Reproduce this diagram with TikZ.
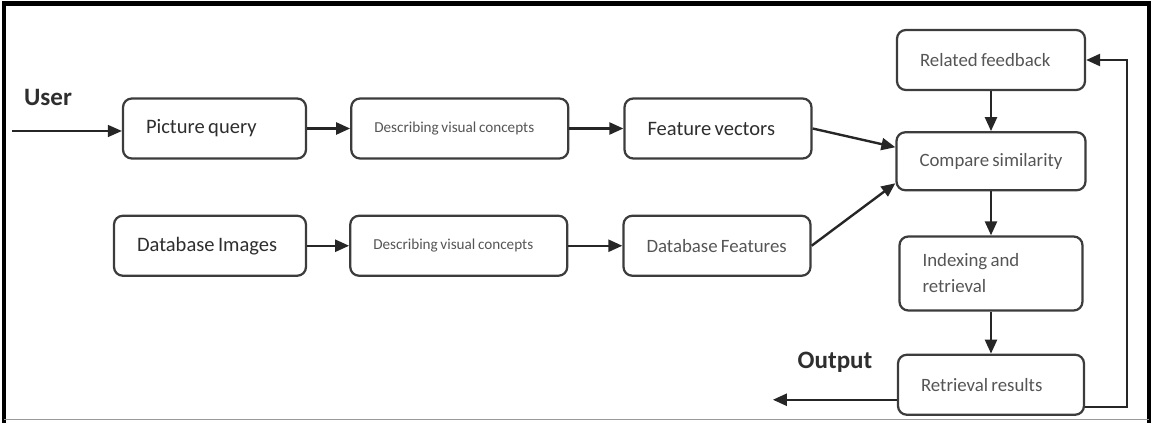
\documentclass[tikz,border=0pt]{standalone}
\usepackage{fontspec}
\setmainfont{Carlito}
\usepackage{xcolor}
\usetikzlibrary{arrows.meta, positioning}
\definecolor{boxline}{HTML}{3C3C3C}
\definecolor{darktext}{HTML}{2E2E2E}
\definecolor{softtext}{HTML}{555555}

\begin{document}
\begin{tikzpicture}[
    block/.style={rectangle, draw=boxline, line width=1.6pt, rounded corners=0.22cm, minimum height=1.5cm, inner xsep=0.575cm, align=left, font=\fontsize{13.4}{18.5}\selectfont, text=softtext, execute at begin node={\spaceskip=0.17em\relax}},
    strong/.style={block, font=\fontsize{14.6}{18}\selectfont, text=darktext},
    small/.style={block, font=\fontsize{10.8}{13}\selectfont, text=softtext},
    io/.style={font=\bfseries\fontsize{17.8}{20}\selectfont, text=darktext},
    arr/.style={-{Triangle[length=0.35cm, width=0.3cm]}, line width=1.7pt, draw=black!85},
]
    \useasboundingbox (0,0) rectangle (28.85,-10.575);
    % frame
    \draw[line width=3pt] (0.1,-10.575) -- (0.1,-0.09) -- (28.725,-0.09) -- (28.725,-10.575);
    \draw[black!40, line width=0.8pt] (0.1,-10.49) -- (28.725,-10.49);

    \node[strong, text width=3.425cm] (query) at (5.3625,-3.2125) {Picture query};
    \node[small, text width=4.275cm, right=1.075cm of query] (descq) {\mbox{Describing visual concepts}};
    \node[strong, text width=3.525cm, right=1.35cm of descq] (featvec) {Feature vectors};
    \node[strong, text width=3.65cm, below=1.375cm of query.south east, anchor=north east] (dbimg) {Database Images};
    \node[small, text width=4.275cm, right=1.05cm of dbimg] (descdb) {\mbox{Describing visual concepts}};
    \node[block, text width=3.525cm, right=1.35cm of descdb] (dbfeat) {\mbox{Database Features}};

    \node[block, text width=3.55cm] (feedback) at (24.775,-1.5) {Related feedback};
    \node[block, text width=3.575cm, minimum height=1.45cm, below=1cm of feedback] (compare) {\mbox{Compare similarity}};
    \node[block, text width=3.425cm, minimum height=1.85cm, below=1.1cm of compare] (index) {Indexing and\\retrieval};
    \node[block, text width=3.5cm, below=1.05cm of index] (results) {Retrieval results};

    \node[io] (user) at (1.2,-2.425) {User};
    \node[io] (output) at (20.875,-9.05) {Output};
    \coordinate (src) at (0.3,-3.275);
    \coordinate (sink) at ([xshift=-3.1cm, yshift=-0.375cm]results.west);

    \draw[arr, line width=1pt] (src) -- (src -| query.west);
    \draw[arr] (query) -- (descq);
    \draw[arr] (descq) -- (featvec);
    \draw[arr] (dbimg) -- (descdb);
    \draw[arr] (descdb) -- (dbfeat);
    \draw[arr] (featvec.east) -- ([yshift=0.35cm]compare.west);
    \draw[arr] (dbfeat.east) -- ([yshift=-0.55cm]compare.west);
    \draw[arr] (feedback) -- (compare);
    \draw[arr] (compare) -- (index);
    \draw[arr] (index) -- (results);
    \draw[arr] ([yshift=-0.375cm]results.west) -- (sink);
    \draw[arr] ([yshift=-0.55cm]results.east) -- ++(1.05cm,0) |- (feedback.east);
\end{tikzpicture}
\end{document}
